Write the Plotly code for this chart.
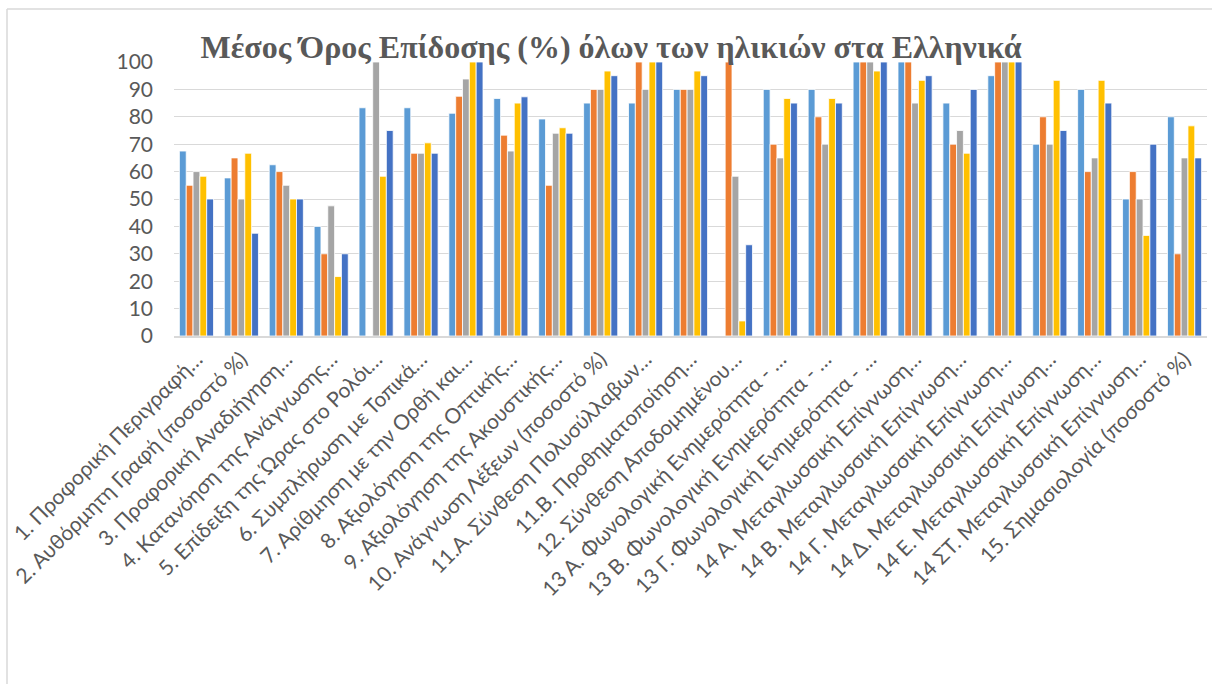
import plotly.graph_objects as go

# Subtest labels (x axis)
categories = [
    "1. Προφορική Περιγραφή…",
    "2. Αυθόρμητη Γραφή (ποσοστό %)",
    "3. Προφορική Αναδιήγηση…",
    "4. Κατανόηση της Ανάγνωσης…",
    "5. Επίδειξη της Ώρας στο Ρολόι…",
    "6. Συμπλήρωση με Τοπικά…",
    "7. Αρίθμηση με την Ορθή και…",
    "8. Αξιολόγηση της Οπτικής…",
    "9. Αξιολόγηση της Ακουστικής…",
    "10. Ανάγνωση Λέξεων (ποσοστό %)",
    "11.Α. Σύνθεση Πολυσύλλαβων…",
    "11.Β. Προθηματοποίηση…",
    "12. Σύνθεση Αποδομημένου…",
    "13 Α. Φωνολογική Ενημερότητα - …",
    "13 Β. Φωνολογική Ενημερότητα - …",
    "13 Γ. Φωνολογική Ενημερότητα - …",
    "14 Α. Μεταγλωσσική Επίγνωση…",
    "14 Β. Μεταγλωσσική Επίγνωση…",
    "14 Γ. Μεταγλωσσική Επίγνωση…",
    "14 Δ. Μεταγλωσσική Επίγνωση…",
    "14 Ε. Μεταγλωσσική Επίγνωση…",
    "14 ΣΤ. Μεταγλωσσική Επίγνωση…",
    "15. Σημασιολογία (ποσοστό %)",
]

# Mean score (%) per group
series_1 = [67.5, 57.7, 62.5, 40.0, 83.3, 83.3, 81.3, 86.7, 79.2, 85.0, 85.0, 90.0,
            0.0, 90.0, 90.0, 100.0, 100.0, 85.0, 95.0, 70.0, 90.0, 50.0, 80.0]
series_2 = [55.0, 65.0, 60.0, 30.0, 0.0, 66.7, 87.5, 73.3, 55.0, 90.0, 100.0, 90.0,
            100.0, 70.0, 80.0, 100.0, 100.0, 70.0, 100.0, 80.0, 60.0, 60.0, 30.0]
series_3 = [60.0, 50.0, 55.0, 47.5, 100.0, 66.7, 93.8, 67.5, 74.0, 90.0, 90.0, 90.0,
            58.3, 65.0, 70.0, 100.0, 85.0, 75.0, 100.0, 70.0, 65.0, 50.0, 65.0]
series_4 = [58.3, 66.7, 50.0, 21.7, 58.3, 70.5, 100.0, 85.0, 76.0, 96.7, 100.0, 96.7,
            5.5, 86.7, 86.7, 96.7, 93.3, 66.7, 100.0, 93.3, 93.3, 36.7, 76.7]
series_5 = [50.0, 37.5, 50.0, 30.0, 75.0, 66.7, 100.0, 87.3, 74.0, 95.0, 100.0, 95.0,
            33.3, 85.0, 85.0, 100.0, 95.0, 90.0, 100.0, 75.0, 85.0, 70.0, 65.0]

series_names = ["Ομάδα 1", "Ομάδα 2", "Ομάδα 3", "Ομάδα 4", "Ομάδα 5"]
series_values = [series_1, series_2, series_3, series_4, series_5]
colors = ["#5B9BD5", "#ED7D31", "#A5A5A5", "#FFC000", "#4472C4"]

W, H = 1212, 684
ML, MR, MT, MB = 174, 5, 62, 348

fig = go.Figure()
for name, vals, col in zip(series_names, series_values, colors):
    fig.add_trace(go.Bar(
        x=categories, y=vals, name=name,
        marker=dict(color=col, line=dict(color="white", width=0.8)),
    ))

# chart frame (left and top edges of the outer border)
pw, ph = W - ML - MR, H - MT - MB
fx = (7 - ML) / pw
fy = (H - MB - 9) / ph
frame = dict(color="#D9D9D9", width=1.5)
fig.add_shape(type="line", xref="paper", yref="paper", x0=fx, x1=fx, y0=-3, y1=fy, line=frame)
fig.add_shape(type="line", xref="paper", yref="paper", x0=fx, x1=2, y0=fy, y1=fy, line=frame)

fig.update_layout(
    width=W, height=H,
    margin=dict(l=ML, r=MR, t=MT, b=MB, autoexpand=False),
    paper_bgcolor="white", plot_bgcolor="white",
    showlegend=False,
    barmode="group", bargap=0.24, bargroupgap=0.0,
    title=dict(
        text="<b>Μέσος Όρος Επίδοσης (%) όλων των ηλικιών στα Ελληνικά</b>",
        font=dict(family="Liberation Serif", size=32, color="#595959"),
        x=611 / W, xanchor="center", y=1 - 47 / H, yanchor="middle",
    ),
    font=dict(family="Lato", color="#595959"),
    xaxis=dict(
        tickangle=-45, tickfont=dict(size=21, color="#595959"),
        showline=True, linecolor="#D9D9D9", linewidth=1.5,
        ticks="", ticklabelstandoff=1, showgrid=False,
    ),
    yaxis=dict(
        range=[0, 100], dtick=10, tickfont=dict(size=21, color="#595959"),
        showgrid=True, gridcolor="#D9D9D9", gridwidth=1.3,
        zeroline=False, showline=False, ticks="", ticklabelstandoff=20,
    ),
)

fig.write_html("out.html")
